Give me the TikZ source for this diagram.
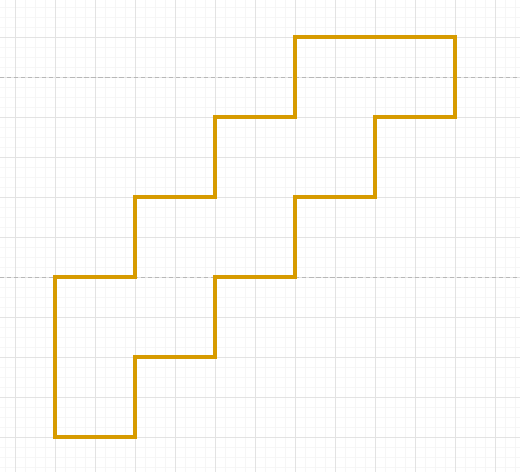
\documentclass[tikz,border=0pt]{standalone}
\usepackage{tikz}
\definecolor{stairorange}{HTML}{D79B00}
\definecolor{gridmajor}{HTML}{E3E3E3}
\definecolor{gridminor}{HTML}{F6F6F6}
\definecolor{guidegray}{HTML}{B8B8B8}
\tikzset{
  minorgrid/.style={gridminor, line width=0.5pt},
  majorgrid/.style={gridmajor, line width=0.7pt},
  guideline/.style={guidegray, line width=0.7pt, dash pattern=on 3pt off 2pt},
  stairline/.style={stairorange, line width=2.2pt, line join=miter}
}

\begin{document}
\begin{tikzpicture}
        % Canvas
        \useasboundingbox (-1.375,-0.85) rectangle (11.625,10.925);
        \clip (-1.375,-0.85) rectangle (11.625,10.925);
        \fill[white] (-1.375,-0.85) rectangle (11.625,10.925);
        % Grid
        \draw[minorgrid, step=0.25] (-2,-1) grid (12,11);
        \draw[majorgrid, step=1] (-2,-1) grid (12,11);
        \draw[guideline] (-1.375,9) -- (11.625,9);
        \draw[guideline] (-1.375,4) -- (11.625,4);
        % Staircase outline
        \draw[stairline] (6,10) -- (10,10) -- (10,8) -- (8,8) -- (8,6) -- (6,6)
            -- (6,4) -- (4,4) -- (4,2) -- (2,2) -- (2,0) -- (0,0) -- (0,4)
            -- (2,4) -- (2,6) -- (4,6) -- (4,8) -- (6,8) -- cycle;
    \end{tikzpicture}
\end{document}
